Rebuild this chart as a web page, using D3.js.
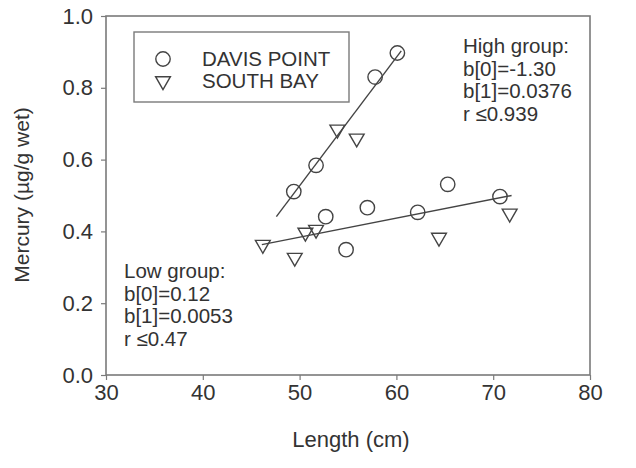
<!DOCTYPE html>
<html>
<head>
<meta charset="utf-8">
<script src="https://cdn.jsdelivr.net/npm/d3@7"></script>
<style>
  body { margin: 0; background: #fff; }
  svg text { font-family: "Liberation Sans", Arial, sans-serif; fill: #333; }
</style>
</head>
<body>
<div id="chart"></div>
<script>
// Davis Point samples (length cm, mercury ug/g wet)
var davisLength = [49.4, 51.7, 52.7, 54.8, 57.0, 62.2, 65.3, 70.7, 57.8, 60.1];
var davisMercury = [0.511, 0.584, 0.441, 0.349, 0.466, 0.453, 0.531, 0.497, 0.830, 0.897];

// South Bay samples
var southLength = [46.2, 49.5, 50.6, 51.7, 53.9, 55.9, 64.4, 71.7];
var southMercury = [0.363, 0.327, 0.397, 0.405, 0.684, 0.659, 0.383, 0.450];

// fitted lines, end points as drawn
var highFit = [[47.6, 0.441], [60.5, 0.903]];
var lowFit = [[46.1, 0.363], [71.9, 0.500]];

var xTicks = [30, 40, 50, 60, 70, 80];
var yTicks = [0, 0.2, 0.4, 0.6, 0.8, 1.0];

var highText = ["High group:", "b[0]=-1.30", "b[1]=0.0376", "r \u22640.939"];
var lowText = ["Low group:", "b[0]=0.12", "b[1]=0.0053", "r \u22640.47"];
var legendNames = ["DAVIS POINT", "SOUTH BAY"];

var width = 636, height = 468;
var svg = d3.select("#chart").append("svg")
    .attr("width", width)
    .attr("height", height);

var x = d3.scaleLinear().domain([30, 80]).range([106, 590]);
var y = d3.scaleLinear().domain([0, 1]).range([375, 16]);

var axisColor = "#7a7a7a";
var markColor = "#444";

// frame
svg.append("rect")
    .attr("x", x(30)).attr("y", y(1))
    .attr("width", x(80) - x(30)).attr("height", y(0) - y(1))
    .attr("fill", "none")
    .attr("stroke", axisColor)
    .attr("stroke-width", 1.6);

var xAxis = d3.axisBottom(x).tickValues(xTicks).tickSize(5).tickPadding(4)
    .tickFormat(d3.format("d"));
var gX = svg.append("g").attr("transform", "translate(0," + y(0) + ")").call(xAxis);

var yAxis = d3.axisLeft(y).tickValues(yTicks).tickSize(5).tickPadding(8)
    .tickFormat(d3.format(".1f"));
var gY = svg.append("g").attr("transform", "translate(" + x(30) + ",0)").call(yAxis);

[gX, gY].forEach(function(g) {
    g.select(".domain").remove();
    g.selectAll(".tick line").attr("stroke", axisColor).attr("stroke-width", 1.2);
    g.selectAll(".tick text")
        .attr("font-size", 22)
        .attr("font-family", "Liberation Sans, Arial, sans-serif")
        .attr("fill", "#333");
});

svg.append("text")
    .attr("x", 351).attr("y", 447)
    .attr("text-anchor", "middle")
    .attr("font-size", 22)
    .text("Length (cm)");

svg.append("text")
    .attr("transform", "translate(29,195) rotate(-90)")
    .attr("text-anchor", "middle")
    .attr("font-size", 21)
    .text("Mercury (\u00b5g/g wet)");

// regression lines
var line = d3.line()
    .x(function(d) { return x(d[0]); })
    .y(function(d) { return y(d[1]); });

[highFit, lowFit].forEach(function(f) {
    svg.append("path")
        .attr("d", line(f))
        .attr("fill", "none")
        .attr("stroke", markColor)
        .attr("stroke-width", 1.4);
});

var tri = d3.symbol().type(d3.symbolTriangle).size(95);

function drawTriangle(g, cx, cy) {
    g.append("path")
        .attr("d", tri())
        .attr("transform", "translate(" + cx + "," + cy + ") rotate(180)")
        .attr("fill", "none")
        .attr("stroke", markColor)
        .attr("stroke-width", 1.4);
}

function drawCircle(g, cx, cy) {
    g.append("circle")
        .attr("cx", cx).attr("cy", cy).attr("r", 7.2)
        .attr("fill", "none")
        .attr("stroke", markColor)
        .attr("stroke-width", 1.4);
}

var marks = svg.append("g");
davisLength.forEach(function(d, i) {
    drawCircle(marks, x(d), y(davisMercury[i]));
});
southLength.forEach(function(d, i) {
    drawTriangle(marks, x(d), y(southMercury[i]));
});

// legend
var legend = svg.append("g");
legend.append("rect")
    .attr("x", 134).attr("y", 32)
    .attr("width", 215).attr("height", 70)
    .attr("fill", "#fff")
    .attr("stroke", axisColor)
    .attr("stroke-width", 1.4);
drawCircle(legend, 163, 59);
drawTriangle(legend, 163, 81);
legendNames.forEach(function(n, i) {
    legend.append("text")
        .attr("x", 202).attr("y", 66 + i * 22)
        .attr("font-size", 20.5)
        .text(n);
});

function block(lines, x0, y0) {
    lines.forEach(function(t, i) {
        svg.append("text")
            .attr("x", x0).attr("y", y0 + i * 22.5)
            .attr("font-size", 20.5)
            .text(t);
    });
}
block(highText, 463, 53);
block(lowText, 124, 278);
</script>
</body>
</html>
